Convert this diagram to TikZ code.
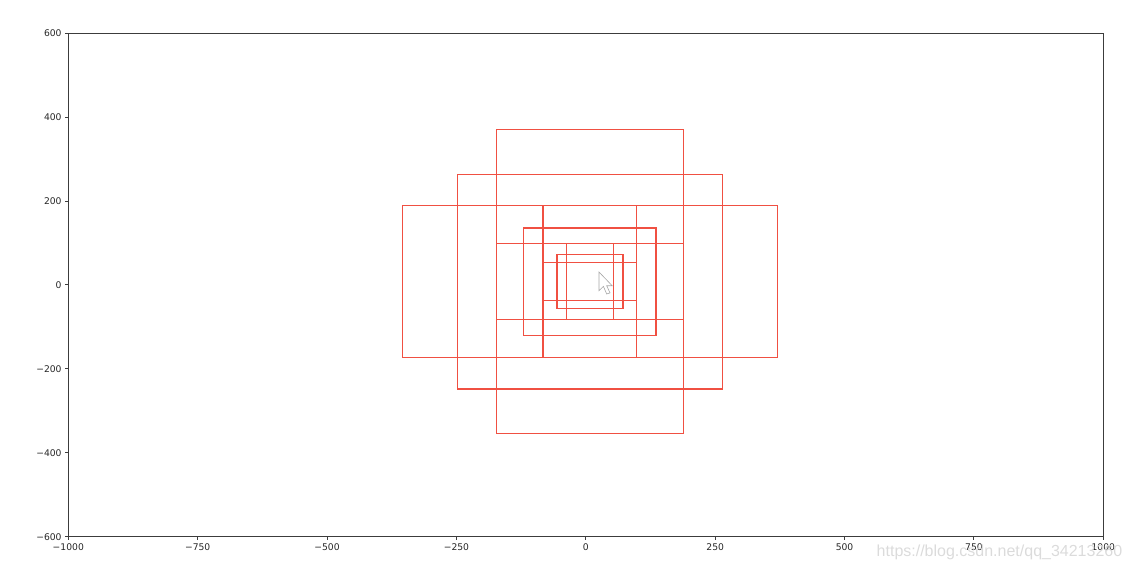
\documentclass[tikz,border=0pt]{standalone}
\usepackage{fontspec}
\setmainfont{DejaVu Sans}
\newfontfamily\wmfont{Liberation Sans}
\usepackage{tikz}
\usetikzlibrary{positioning}
\definecolor{boxred}{RGB}{240,80,66}
\definecolor{spinegray}{RGB}{60,60,60}
\tikzset{anchorbox/.style={draw=boxred, line width=1.4bp},
         spine/.style={draw=spinegray, line width=1.1bp},
         tickmark/.style={draw=spinegray, line width=1bp},
         ticklabel/.style={inner sep=0pt, text=black!85, font=\fontsize{9.2bp}{11bp}\selectfont}}
% tick label with a real minus sign
\newcommand{\tlab}[1]{\ifnum#1<0 −\number\numexpr-#1\relax\else#1\fi}

\begin{document}
\begin{tikzpicture}
    \useasboundingbox (0,0) rectangle (1130bp,568bp);
    \begin{scope}[shift={(585.8bp,283bp)}, x=0.5175bp, y=0.4195bp]
        % anchors: three sizes, three aspect ratios
        \foreach \s in {128,256,512} {
            \foreach \r in {0.7071,1,1.4142} {
                \draw[anchorbox] ({8-\s*\r/2},{8-\s/\r/2}) rectangle ({8+\s*\r/2},{8+\s/\r/2});
            }
        }
        \draw[spine] (-1000,-600) rectangle (1000,600);
        \foreach \x [count=\i] in {-1000,-750,...,1000} {
            \draw[tickmark] (\x,-600) -- ++(0,-3.5bp);
            \node[ticklabel, anchor=north, yshift=-6.3bp] (xl\i) at (\x,-600) {\tlab{\x}};
        }
        \foreach \y [count=\i] in {-600,-400,...,600} {
            \draw[tickmark] (-1000,\y) -- ++(-3.5bp,0);
            \node[ticklabel, anchor=east, xshift=-6.5bp] (yl\i) at (-1000,\y) {\tlab{\y}};
        }
    \end{scope}
    % mouse pointer
    \draw[gray!70, fill=white, line width=0.6bp, shift={(599bp,296bp)}, x=1.1bp, y=-1.1bp]
        (0,0) -- (0,17) -- (4,13) -- (7,20) -- (10,19) -- (7,12.5) -- (12,12.5) -- cycle;
    % watermark
    \node[anchor=base west, inner sep=0pt, text=black!14, font=\wmfont\fontsize{16bp}{18bp}\selectfont] (mark) at (876.5bp,12bp) {https://blog.csdn.net/qq\_34213260};
\end{tikzpicture}
\end{document}
